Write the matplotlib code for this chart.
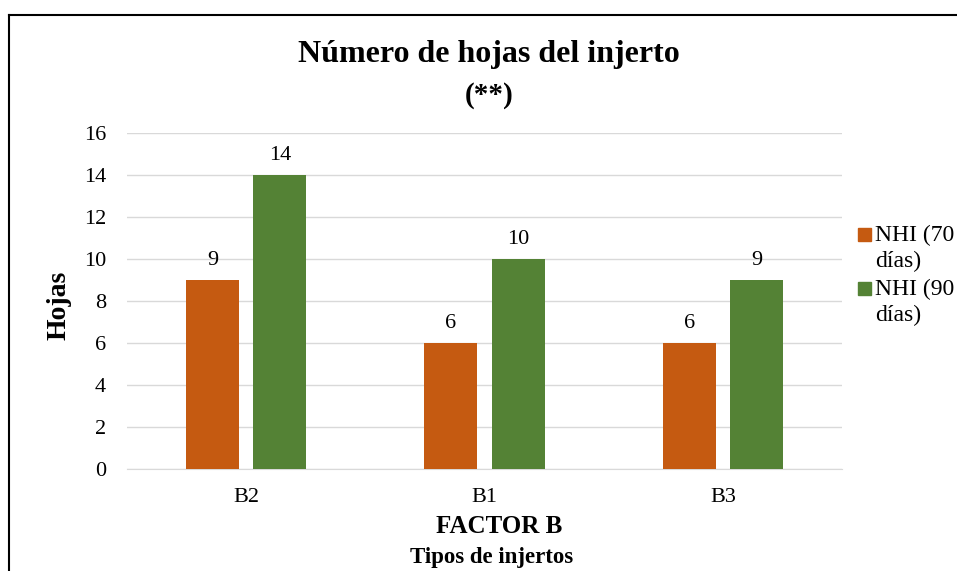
import matplotlib
matplotlib.use("Agg")
import matplotlib.pyplot as plt
from matplotlib.lines import Line2D
from matplotlib.patches import Rectangle
import numpy as np

categories = ["B2", "B1", "B3"]
nhi_70 = [9, 6, 6]
nhi_90 = [14, 10, 9]
series_names = ["NHI (70\ndías)", "NHI (90\ndías)"]
y_ticks = [0, 2, 4, 6, 8, 10, 12, 14, 16]

plt.rcParams["font.family"] = ["Liberation Serif", "DejaVu Serif"]

W, H = 957, 571
fig = plt.figure(figsize=(W / 100, H / 100), dpi=100)


def fx(px):
    return px / W


def fy(py):
    return 1 - py / H


ax = fig.add_axes([fx(127), fy(469), (842 - 127) / W, (469 - 133) / H])

x = np.arange(len(categories))
w = 0.222
off = 0.141
orange = "#C55A11"
green = "#548235"
colors = [orange, green]
b1 = ax.bar(x - off, nhi_70, w, color=orange, zorder=3)
b2 = ax.bar(x + off, nhi_90, w, color=green, zorder=3)

for bars, vals in ((b1, nhi_70), (b2, nhi_90)):
    for r, v in zip(bars, vals):
        ax.annotate(f"{v}", (r.get_x() + r.get_width() / 2, v), xytext=(0, 7),
                    textcoords="offset points", ha="center", va="bottom", fontsize=16)

ax.set_xlim(-0.5, 2.5)
ax.set_ylim(0, 16)
ax.set_yticks(y_ticks)
ax.set_xticks(x)
ax.set_xticklabels(categories)
ax.tick_params(axis="both", length=0, labelsize=16)
ax.tick_params(axis="y", pad=15)
ax.tick_params(axis="x", pad=14)
ax.grid(axis="y", color="#D9D9D9", linewidth=1, zorder=0)
for s in ("top", "right", "left"):
    ax.spines[s].set_visible(False)
ax.spines["bottom"].set_color("#D9D9D9")

fig.text(fx(489), fy(62), "Número de hojas del injerto", ha="center", va="baseline",
         fontsize=23, fontweight="bold")
fig.text(fx(489), fy(103), "(**)", ha="center", va="baseline",
         fontsize=21, fontweight="bold")
fig.text(fx(59), fy(305), "Hojas", ha="center", va="center", rotation=90,
         fontsize=20, fontweight="bold")
fig.text(fx(499), fy(533), "FACTOR B", ha="center", va="baseline",
         fontsize=18, fontweight="bold")
fig.text(fx(492), fy(563), "Tipos de injertos", ha="center", va="baseline",
         fontsize=16.5, fontweight="bold")

# legend: square markers with two-line labels
legend_tops = [228, 282]
for top, name, c in zip(legend_tops, series_names, colors):
    fig.add_artist(Rectangle((fx(858), fy(top + 13)), 13 / W, 13 / H,
                             transform=fig.transFigure, color=c))
    fig.text(fx(875), fy(top - 3), name, ha="left", va="top", fontsize=17,
             linespacing=1.3)

# outer frame
fig.add_artist(Line2D([fx(9), fx(9)], [0, fy(15)], transform=fig.transFigure,
                      color="black", linewidth=1.5))
fig.add_artist(Line2D([fx(9), 1], [fy(15), fy(15)], transform=fig.transFigure,
                      color="black", linewidth=1.5))

fig.savefig("out.png", dpi=100)
